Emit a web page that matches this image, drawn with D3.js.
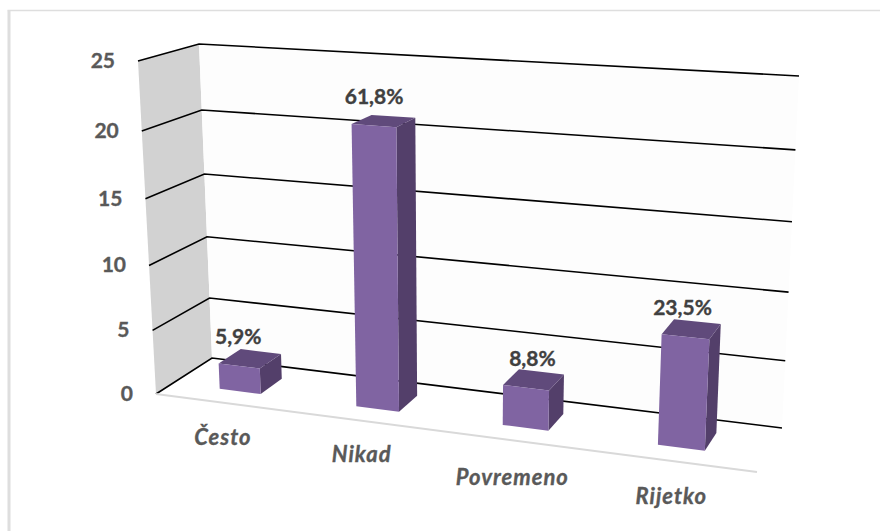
<!DOCTYPE html>
<html><head><meta charset="utf-8">
<style>html,body{margin:0;padding:0;background:#fff}svg{display:block}text{font-family:Lato,"Open Sans",sans-serif}</style>
<script src="https://cdn.jsdelivr.net/npm/d3@7"></script></head>
<body><svg id="c" width="880" height="531"></svg>
<script>
// Data
const categories = ["Često", "Nikad", "Povremeno", "Rijetko"];
const counts = [2, 21, 3, 8];
const percentLabels = ["5,9%", "61,8%", "8,8%", "23,5%"];
const tickValues = [0, 5, 10, 15, 20, 25];

// Plot-box geometry (perspective box corners, pixel layout)
const box = {
  f0: [[156, 394], [138, 61]],   // front-left  [floor, top]
  f1: [[757, 472], [776, 100]],  // front-right
  b0: [[212, 358], [199, 44]],   // back-left
  b1: [[782, 428], [799, 76]]    // back-right
};
// Small hand placement of labels, in pixels
const layoutPercentDx = [-1, 1, 7, -3];
const layoutCategoryDy = [0, -1, 3, 1];
const lerp = (a, b, t) => a + (b - a) * t;
const lerp2 = (p, q, t) => [lerp(p[0], q[0], t), lerp(p[1], q[1], t)];

// Scales
const tScale = d3.scaleLinear().domain(tickValues).range([0, .191, .386, .586, .79, 1]);
const uScale = d3.scaleLinear().domain([.5, 1.5, 2.5, 3.5]).range([.113, .344, .5945, .859]);
const project = (k, v, val) => {
  const t = tScale(val), u = k === "L" ? 0 : k === "R" ? 1 : uScale(k);
  const floor = lerp2(lerp2(box.f0[0], box.f1[0], u), lerp2(box.b0[0], box.b1[0], u), v);
  const top = lerp2(lerp2(box.f0[1], box.f1[1], u), lerp2(box.b0[1], box.b1[1], u), v);
  return lerp2(floor, top, t);
};
const line = d3.line();
const svg = d3.select("#c");

// Chart frame: only top and left edges are visible
svg.append("path").attr("d", line([[9, 531], [9, 10.5]]))
  .attr("fill", "none").attr("stroke", "#dedede").attr("stroke-width", 3);
svg.append("path").attr("d", line([[7.5, 10.5], [880, 10.5]]))
  .attr("fill", "none").attr("stroke", "#dedede").attr("stroke-width", 1.5);

// Walls
const K0 = "L", K1 = "R";
svg.append("path").attr("d", line([project(K0,0,0), project(K0,0,25), project(K0,1,25), project(K0,1,0)]) + "Z").attr("fill", "#d2d2d2");
svg.append("path").attr("d", line([project(K0,1,0), project(K0,1,25), project(K1,1,25), project(K1,1,0)]) + "Z").attr("fill", "#fdfdfd");

// Gridlines
const grid = svg.append("g").attr("fill", "none").attr("stroke", "#000").attr("stroke-width", 1.6);
tickValues.forEach(t => grid.append("path").attr("d", line([project(K0,0,t), project(K0,1,t), project(K1,1,t)])));
// Floor front edge
svg.append("path").attr("d", line([project(K0,0,0), project(K1,0,0)])).attr("stroke", "#d9d9d9").attr("stroke-width", 2).attr("fill", "none");

// Tick labels
svg.append("g").selectAll("text").data(tickValues).join("text")
  .attr("x", d => project(K0,0,d)[0] - 23)
  .attr("y", d => project(K0,0,d)[1] + 7)
  .attr("text-anchor", "end").attr("font-size", 21).attr("font-weight", 700).attr("fill", "#595959")
  .attr("stroke", "#595959").attr("stroke-width", .35)
  .text(d => d);

// Bars
const hw = .15, v0 = .31, v1 = .72;
const bars = svg.append("g").selectAll("g").data(counts).join("g");
const face = (fn, color) => bars.append("path").attr("fill", color)
  .attr("d", (d, i) => line(fn(i + .5, d)) + "Z");
face((k, d) => [project(k+hw,v0,0), project(k+hw,v1,0), project(k+hw,v1,d), project(k+hw,v0,d)], "#533f6a");
face((k, d) => [project(k-hw,v0,d), project(k+hw,v0,d), project(k+hw,v1,d), project(k-hw,v1,d)], "#604a7b");
face((k, d) => [project(k-hw,v0,0), project(k+hw,v0,0), project(k+hw,v0,d), project(k-hw,v0,d)], "#8064a2");

// Data labels
bars.append("text")
  .attr("x", (d, i) => project(i + .5, v0, d)[0] + layoutPercentDx[i])
  .attr("y", (d, i) => project(i + .5, v0, d)[1] - 22)
  .attr("text-anchor", "middle").attr("font-size", 21).attr("font-weight", 700).attr("fill", "#404040")
  .attr("stroke", "#404040").attr("stroke-width", .35)
  .text((d, i) => percentLabels[i]);

// Category labels
svg.append("g").selectAll("text").data(categories).join("text")
  .attr("x", (d, i) => project(i + .5, 0, 0)[0] - 1)
  .attr("y", (d, i) => project(i + .5, 0, 0)[1] + 42 + layoutCategoryDy[i])
  .attr("text-anchor", "middle").attr("font-size", 22).attr("letter-spacing", 1).attr("font-weight", 700).attr("font-style", "italic").attr("fill", "#595959")
  .attr("stroke", "#595959").attr("stroke-width", .35)
  .text(d => d);
</script></body></html>
